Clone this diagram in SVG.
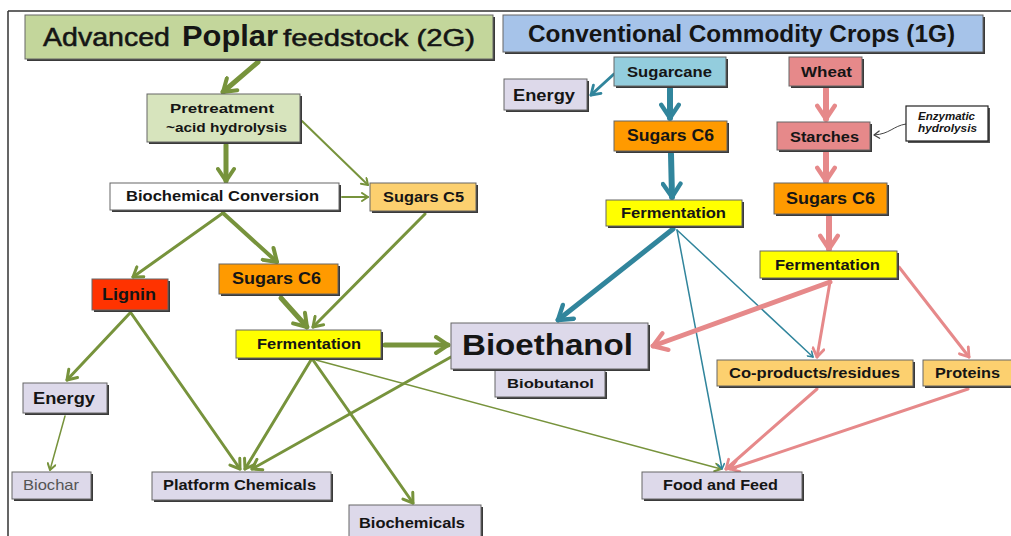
<svg xmlns="http://www.w3.org/2000/svg" width="1011" height="536" viewBox="0 0 1011 536">
<style>
.sh{fill:#3a3a3a}
.bx{stroke:#666;stroke-width:1}
text{font-family:"Liberation Sans",Arial,sans-serif;font-weight:bold;fill:#151515}
text.n{font-weight:normal;stroke:#151515;stroke-width:0.5}
text.gy{font-weight:normal;fill:#555}
text.it{font-style:italic}
.g{stroke:#77933c;fill:none;stroke-linecap:round}
.b{stroke:#31859c;fill:none;stroke-linecap:round}
.p{stroke:#e6898a;fill:none;stroke-linecap:round}
.gr{fill:#c3d69b}.lg{fill:#d7e4bd}.bl{fill:#a6c3e9}.cy{fill:#93cddd}.pk{fill:#e6898a}
.or{fill:#ff9a00}.lo{fill:#fcd06f}.rd{fill:#ff3300}.ye{fill:#ffff00}.lv{fill:#ddd9ea}.wh{fill:#fff}
</style>
<defs>
<marker id="gL" viewBox="0 0 20 20" refX="16" refY="10" markerWidth="20" markerHeight="20" markerUnits="userSpaceOnUse" orient="auto"><path d="M4,2 L16,10 L4,18" fill="none" stroke="#77933c" stroke-width="4" stroke-linecap="round" stroke-linejoin="round"/></marker>
<marker id="gM" viewBox="0 0 20 20" refX="16" refY="10" markerWidth="15" markerHeight="15" markerUnits="userSpaceOnUse" orient="auto"><path d="M4,2 L16,10 L4,18" fill="none" stroke="#77933c" stroke-width="4" stroke-linecap="round" stroke-linejoin="round"/></marker>
<marker id="gS" viewBox="0 0 20 20" refX="16" refY="10" markerWidth="10" markerHeight="10" markerUnits="userSpaceOnUse" orient="auto"><path d="M4,2 L16,10 L4,18" fill="none" stroke="#77933c" stroke-width="4" stroke-linecap="round" stroke-linejoin="round"/></marker>
<marker id="bL" viewBox="0 0 20 20" refX="16" refY="10" markerWidth="22" markerHeight="22" markerUnits="userSpaceOnUse" orient="auto"><path d="M4,2 L16,10 L4,18" fill="none" stroke="#31859c" stroke-width="4" stroke-linecap="round" stroke-linejoin="round"/></marker>
<marker id="bM" viewBox="0 0 20 20" refX="16" refY="10" markerWidth="14" markerHeight="14" markerUnits="userSpaceOnUse" orient="auto"><path d="M4,2 L16,10 L4,18" fill="none" stroke="#31859c" stroke-width="4" stroke-linecap="round" stroke-linejoin="round"/></marker>
<marker id="bS" viewBox="0 0 20 20" refX="16" refY="10" markerWidth="8" markerHeight="8" markerUnits="userSpaceOnUse" orient="auto"><path d="M4,2 L16,10 L4,18" fill="none" stroke="#31859c" stroke-width="4" stroke-linecap="round" stroke-linejoin="round"/></marker>
<marker id="pL" viewBox="0 0 20 20" refX="16" refY="10" markerWidth="22" markerHeight="22" markerUnits="userSpaceOnUse" orient="auto"><path d="M4,2 L16,10 L4,18" fill="none" stroke="#e6898a" stroke-width="4" stroke-linecap="round" stroke-linejoin="round"/></marker>
<marker id="pM" viewBox="0 0 20 20" refX="16" refY="10" markerWidth="14" markerHeight="14" markerUnits="userSpaceOnUse" orient="auto"><path d="M4,2 L16,10 L4,18" fill="none" stroke="#e6898a" stroke-width="4" stroke-linecap="round" stroke-linejoin="round"/></marker>
<marker id="kS" viewBox="0 0 20 20" refX="16" refY="10" markerWidth="9" markerHeight="9" markerUnits="userSpaceOnUse" orient="auto"><path d="M4,2 L16,10 L4,18" fill="none" stroke="#444" stroke-width="3" stroke-linecap="round" stroke-linejoin="round"/></marker>
</defs>

<g id="frame" fill="none" stroke="#333" stroke-width="1.5">
<path d="M8,11 H1011 M8,11 V536"/>
</g>

<g id="connectors">
<path class="g" stroke-width="5" d="M258,62 L223,92" marker-end="url(#gL)"/>
<path class="g" stroke-width="5" d="M226,145 L226,181" marker-end="url(#gL)"/>
<path class="g" stroke-width="2" d="M302,121 L368,185" marker-end="url(#gS)"/>
<path class="g" stroke-width="2" d="M342,197 L368,197" marker-end="url(#gS)"/>
<path class="g" stroke-width="3" d="M223,213 L133,277" marker-end="url(#gM)"/>
<path class="g" stroke-width="4" d="M223,213 L277,262" marker-end="url(#gL)"/>
<path class="g" stroke-width="3" d="M425,214 L313,327" marker-end="url(#gM)"/>
<path class="g" stroke-width="5" d="M281,298 L307,327" marker-end="url(#gL)"/>
<path class="g" stroke-width="5" d="M385,345 L448,345" marker-end="url(#gL)"/>
<path class="g" stroke-width="3" d="M130,313 L67,380" marker-end="url(#gM)"/>
<path class="g" stroke-width="3" d="M131,313 L240,469" marker-end="url(#gM)"/>
<path class="g" stroke-width="1.5" d="M65,416 L50,470" marker-end="url(#gS)"/>
<path class="g" stroke-width="3" d="M311,360 L245,469" marker-end="url(#gM)"/>
<path class="g" stroke-width="3" d="M313,360 L413,503" marker-end="url(#gM)"/>
<path class="g" stroke-width="1.5" d="M316,360 L721,469" marker-end="url(#gS)"/>
<path class="g" stroke-width="3" d="M451,357 L252,469" marker-end="url(#gM)"/>
<path class="b" stroke-width="3" d="M614,74 L591,95" marker-end="url(#bM)"/>
<path class="b" stroke-width="6" d="M670,89 L670,118" marker-end="url(#bL)"/>
<path class="b" stroke-width="6" d="M671,154 L672,197" marker-end="url(#bL)"/>
<path class="b" stroke-width="5" d="M673,229 L558,320" marker-end="url(#bL)"/>
<path class="b" stroke-width="1.5" d="M677,230 L722,469" marker-end="url(#bS)"/>
<path class="b" stroke-width="1.5" d="M677,230 L813,357" marker-end="url(#bS)"/>
<path class="p" stroke-width="6" d="M826,89 L826,119" marker-end="url(#pL)"/>
<path class="p" stroke-width="6" d="M826,153 L826,181" marker-end="url(#pL)"/>
<path class="p" stroke-width="6" d="M829,217 L829,249" marker-end="url(#pL)"/>
<path class="p" stroke-width="5" d="M830,282 L653,346" marker-end="url(#pL)"/>
<path class="p" stroke-width="3" d="M830,282 L817,357" marker-end="url(#pM)"/>
<path class="p" stroke-width="3" d="M899,267 L969,357" marker-end="url(#pM)"/>
<path class="p" stroke-width="3" d="M817,389 L726,469" marker-end="url(#pM)"/>
<path class="p" stroke-width="3" d="M968,389 L730,469" marker-end="url(#pM)"/>
<path fill="none" stroke="#444" stroke-width="1" d="M906,124 C893,126 890,134 874,135" marker-end="url(#kS)"/>
</g>

<g id="title-2g">
<rect class="sh" x="27" y="17" width="468" height="44"/>
<rect class="bx gr" x="25" y="15" width="468" height="44"/>
<text class="n" x="43" y="46" font-size="25" textLength="127" lengthAdjust="spacingAndGlyphs">Advanced</text>
<text x="182" y="46" font-size="30" textLength="96" lengthAdjust="spacingAndGlyphs">Poplar</text>
<text class="n" x="283" y="46" font-size="24" textLength="192" lengthAdjust="spacingAndGlyphs">feedstock (2G)</text>
</g>
<g id="title-1g">
<rect class="sh" x="505" y="17" width="480" height="37"/>
<rect class="bx bl" x="503" y="15" width="480" height="37"/>
<text x="528" y="42" font-size="23" textLength="427" lengthAdjust="spacingAndGlyphs">Conventional Commodity Crops (1G)</text>
</g>

<g id="pretreatment">
<rect class="sh" x="149" y="96" width="153" height="48"/>
<rect class="bx lg" x="147" y="94" width="153" height="48"/>
<text x="170" y="113" font-size="13" textLength="104" lengthAdjust="spacingAndGlyphs">Pretreatment</text>
<text x="166" y="132" font-size="13" textLength="121" lengthAdjust="spacingAndGlyphs">~acid hydrolysis</text>
</g>
<g id="biochem-conversion">
<rect class="sh" x="112" y="185" width="229" height="27"/>
<rect class="bx wh" x="110" y="183" width="229" height="27"/>
<text x="126" y="201" font-size="14" textLength="193" lengthAdjust="spacingAndGlyphs">Biochemical Conversion</text>
</g>
<g id="sugars-c5">
<rect class="sh" x="372" y="185" width="106" height="28"/>
<rect class="bx lo" x="370" y="183" width="106" height="28"/>
<text x="383" y="202" font-size="15" textLength="81" lengthAdjust="spacingAndGlyphs">Sugars C5</text>
</g>
<g id="lignin">
<rect class="sh" x="94" y="281" width="76" height="31"/>
<rect class="bx rd" x="92" y="279" width="76" height="31"/>
<text x="102" y="300" font-size="17" textLength="54" lengthAdjust="spacingAndGlyphs">Lignin</text>
</g>
<g id="sugars-c6-2g">
<rect class="sh" x="221" y="266" width="119" height="30"/>
<rect class="bx or" x="219" y="264" width="119" height="30"/>
<text x="232" y="284" font-size="16" textLength="89" lengthAdjust="spacingAndGlyphs">Sugars C6</text>
</g>
<g id="fermentation-2g">
<rect class="sh" x="238" y="332" width="145" height="28"/>
<rect class="bx ye" x="236" y="330" width="145" height="28"/>
<text x="257" y="349" font-size="14" textLength="104" lengthAdjust="spacingAndGlyphs">Fermentation</text>
</g>
<g id="biobutanol">
<rect class="sh" x="497" y="372" width="110" height="27"/>
<rect class="bx lv" x="495" y="370" width="110" height="27"/>
<text x="507" y="388" font-size="13" textLength="87" lengthAdjust="spacingAndGlyphs">Biobutanol</text>
</g>
<g id="bioethanol">
<rect class="sh" x="453" y="325" width="197" height="46"/>
<rect class="bx lv" x="451" y="323" width="197" height="46"/>
<text x="462" y="355" font-size="30" textLength="171" lengthAdjust="spacingAndGlyphs">Bioethanol</text>
</g>
<g id="energy-2g">
<rect class="sh" x="25" y="385" width="84" height="30"/>
<rect class="bx lv" x="23" y="383" width="84" height="30"/>
<text x="33" y="404" font-size="16" textLength="62" lengthAdjust="spacingAndGlyphs">Energy</text>
</g>
<g id="biochar">
<rect class="sh" x="14" y="474" width="79" height="27"/>
<rect class="bx lv" x="12" y="472" width="79" height="27"/>
<text class="gy" x="23" y="490" font-size="15" textLength="56" lengthAdjust="spacingAndGlyphs">Biochar</text>
</g>
<g id="platform-chemicals">
<rect class="sh" x="154" y="474" width="179" height="28"/>
<rect class="bx lv" x="152" y="472" width="179" height="28"/>
<text x="163" y="490" font-size="14" textLength="153" lengthAdjust="spacingAndGlyphs">Platform Chemicals</text>
</g>
<g id="biochemicals">
<rect class="sh" x="351" y="507" width="132" height="33"/>
<rect class="bx lv" x="349" y="505" width="132" height="33"/>
<text x="359" y="528" font-size="15" textLength="106" lengthAdjust="spacingAndGlyphs">Biochemicals</text>
</g>
<g id="food-feed">
<rect class="sh" x="644" y="474" width="160" height="27"/>
<rect class="bx lv" x="642" y="472" width="160" height="27"/>
<text x="663" y="490" font-size="14" textLength="115" lengthAdjust="spacingAndGlyphs">Food and Feed</text>
</g>

<g id="sugarcane">
<rect class="sh" x="616" y="59" width="112" height="29"/>
<rect class="bx cy" x="614" y="57" width="112" height="29"/>
<text x="627" y="77" font-size="14" textLength="85" lengthAdjust="spacingAndGlyphs">Sugarcane</text>
</g>
<g id="energy-1g">
<rect class="sh" x="506" y="81" width="83" height="31"/>
<rect class="bx lv" x="504" y="79" width="83" height="31"/>
<text x="513" y="101" font-size="16" textLength="62" lengthAdjust="spacingAndGlyphs">Energy</text>
</g>
<g id="wheat">
<rect class="sh" x="791" y="59" width="73" height="29"/>
<rect class="bx pk" x="789" y="57" width="73" height="29"/>
<text x="801" y="77" font-size="14" textLength="51" lengthAdjust="spacingAndGlyphs">Wheat</text>
</g>
<g id="sugars-c6-cane">
<rect class="sh" x="616" y="123" width="113" height="30"/>
<rect class="bx or" x="614" y="121" width="113" height="30"/>
<text x="627" y="141" font-size="16" textLength="87" lengthAdjust="spacingAndGlyphs">Sugars C6</text>
</g>
<g id="starches">
<rect class="sh" x="779" y="124" width="93" height="28"/>
<rect class="bx pk" x="777" y="122" width="93" height="28"/>
<text x="790" y="142" font-size="14" textLength="69" lengthAdjust="spacingAndGlyphs">Starches</text>
</g>
<g id="enzymatic">
<rect x="908" y="108" width="82" height="35" fill="#555"/>
<rect x="906" y="106" width="82" height="35" fill="#fff" stroke="#222" stroke-width="1.2"/>
<text class="it" x="918" y="120" font-size="10" textLength="57" lengthAdjust="spacingAndGlyphs">Enzymatic</text>
<text class="it" x="918" y="132" font-size="10" textLength="59" lengthAdjust="spacingAndGlyphs">hydrolysis</text>
</g>
<g id="fermentation-cane">
<rect class="sh" x="608" y="202" width="136" height="26"/>
<rect class="bx ye" x="606" y="200" width="136" height="26"/>
<text x="621" y="218" font-size="14" textLength="105" lengthAdjust="spacingAndGlyphs">Fermentation</text>
</g>
<g id="sugars-c6-wheat">
<rect class="sh" x="776" y="185" width="113" height="31"/>
<rect class="bx or" x="774" y="183" width="113" height="31"/>
<text x="786" y="204" font-size="16" textLength="89" lengthAdjust="spacingAndGlyphs">Sugars C6</text>
</g>
<g id="fermentation-wheat">
<rect class="sh" x="762" y="253" width="137" height="27"/>
<rect class="bx ye" x="760" y="251" width="137" height="27"/>
<text x="775" y="270" font-size="14" textLength="105" lengthAdjust="spacingAndGlyphs">Fermentation</text>
</g>
<g id="coproducts">
<rect class="sh" x="719" y="362" width="196" height="26"/>
<rect class="bx lo" x="717" y="360" width="196" height="26"/>
<text x="729" y="378" font-size="14" textLength="171" lengthAdjust="spacingAndGlyphs">Co-products/residues</text>
</g>
<g id="proteins">
<rect class="sh" x="925" y="362" width="90" height="26"/>
<rect class="bx lo" x="923" y="360" width="90" height="26"/>
<text x="935" y="378" font-size="14" textLength="65" lengthAdjust="spacingAndGlyphs">Proteins</text>
</g>
</svg>
